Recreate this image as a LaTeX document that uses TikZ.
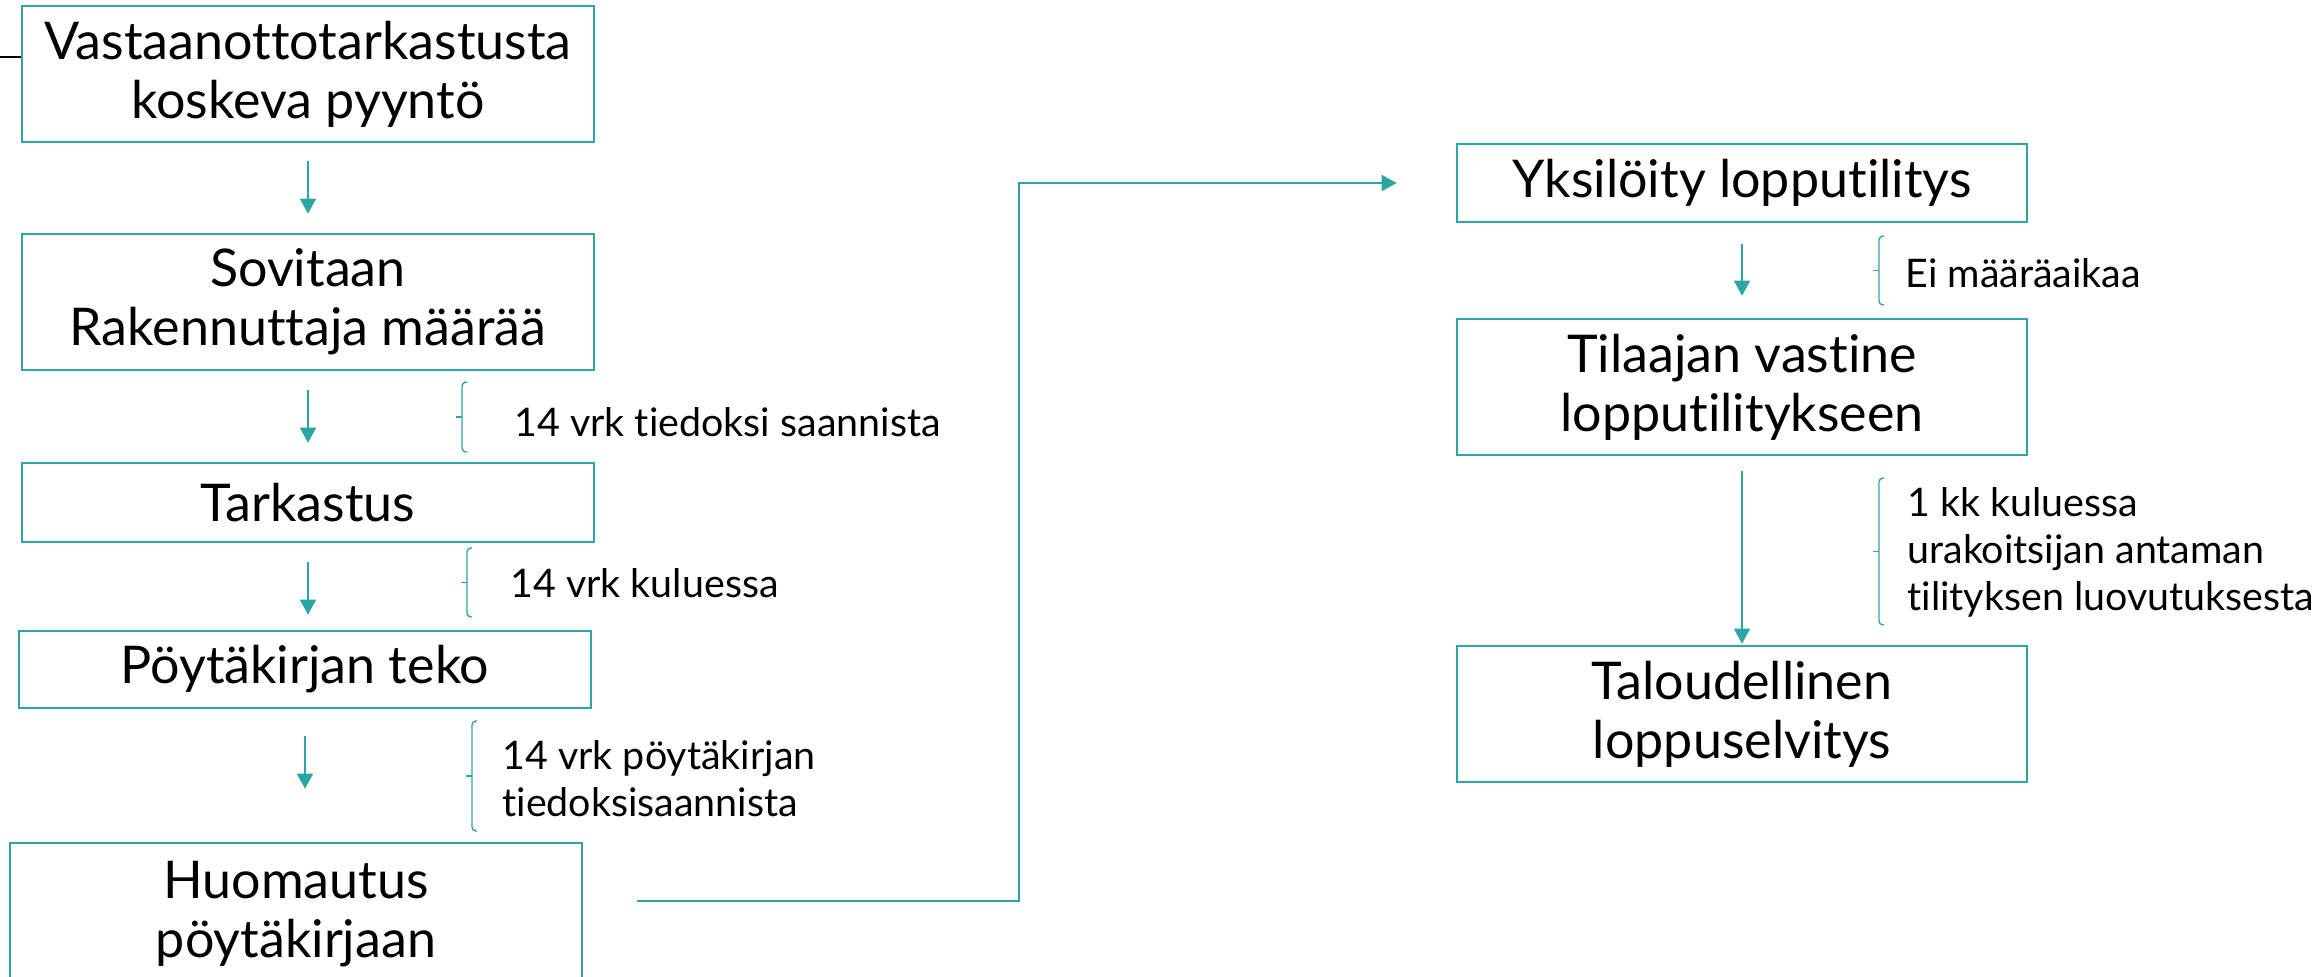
\documentclass[tikz,border=0pt]{standalone}
\usepackage{fontspec}
\setmainfont[Ligatures=NoCommon]{Lato}
\usetikzlibrary{arrows.meta,calc}
\definecolor{teal}{RGB}{43,166,164}
\tikzset{
  box/.style={draw=teal, line width=1.3pt, fill=white, align=center, inner sep=0pt,
    font=\fontsize{26}{29.5}\selectfont},
  lbl/.style={anchor=west, align=left, inner sep=0pt, font=\fontsize{19.7}{23.5}\selectfont},
  conn/.style={draw=teal, line width=0.8pt, -{Triangle[length=7.5pt,width=8pt]}},
  brc/.style={draw=teal, line width=0.7pt, rounded corners=2pt}
}
\newcommand{\mybrk}[3]{% x, top, bottom
  \draw[brc] ($(#1,#2)+(5,0)$) -- (#1,#2) -- (#1,#3) -- ($(#1,#3)+(5,0)$);
  \draw[teal, line width=0.7pt] ($(#1,{(#2+#3)/2})$) -- ($(#1,{(#2+#3)/2})+(-6,0)$);
}
\begin{document}
\begin{tikzpicture}[x=0.5pt,y=-0.5pt]
\useasboundingbox (0,0) rectangle (2322,976);
\clip (0,0) rectangle (2322,976);
% left column
\node[box, minimum width=286pt, minimum height=68pt] (b1) at (308,74) {Vastaanottotarkastusta\\koskeva pyyntö};
\node[box, minimum width=286pt, minimum height=68pt] (b2) at (308,302) {Sovitaan\\Rakennuttaja määrää};
\node[box, minimum width=286pt, minimum height=39.5pt] (b3) at (308,502.5) {Tarkastus};
\node[box, minimum width=286pt, minimum height=38.5pt] (b4) at (305,669.5) {Pöytäkirjan teko};
\node[box, minimum width=286pt, minimum height=71pt] (b5) at (296,914) {Huomautus\\pöytäkirjaan};
% right column
\node[box, minimum width=285pt, minimum height=39pt] (yk) at (1742,183) {Yksilöity lopputilitys};
\node[box, minimum width=285pt, minimum height=68pt] (ti) at (1742,387) {Tilaajan vastine\\lopputilitykseen};
\node[box, minimum width=285pt, minimum height=68pt] (ta) at (1742,714) {Taloudellinen\\loppuselvitys};
% labels
\node[lbl] (l1) at (514,422) {14 vrk tiedoksi saannista};
\node[lbl] (l2) at (510,583) {14 vrk kuluessa};
\node[lbl] (l3) at (502,779) {14 vrk pöytäkirjan\\tiedoksisaannista};
\node[lbl] (l4) at (1905,273) {Ei määräaikaa};
\node[lbl] (l5) at (1907,552) {1 kk kuluessa\\urakoitsijan antaman\\tilityksen luovutuksesta};
% brackets
\mybrk{462}{382}{452}
\mybrk{467}{548}{617}
\mybrk{472}{721}{831}
\mybrk{1879}{236}{305}
\mybrk{1879}{478}{625}
% arrows
\draw[conn, shorten <=9pt, shorten >=9.5pt] (b1.south) -- (b2.north);
\draw[conn, shorten <=9.5pt, shorten >=9.5pt] (b2.south) -- (b3.north);
\draw[conn, shorten <=9.5pt, shorten >=7.5pt] (b3.south) -- (b3.south |- b4.north);
\draw[conn, shorten <=13.5pt, shorten >=26.5pt] (b4.south) -- (b4.south |- b5.north);
\draw[conn, shorten <=10.5pt, shorten >=11pt] (yk.south) -- (ti.north);
\draw[conn, shorten <=7.5pt, shorten >=0.5pt] (ti.south) -- (ta.north);
% long connector
\coordinate (hstart) at (637,901);
\coordinate (hbend) at (1019,901);
\draw[conn, shorten >=29.5pt] (hstart) -- (hbend) |- (yk.west);
% black line at top left
\coordinate (lstart) at (0,57);
\draw[black, line width=0.8pt] (lstart) -- (lstart -| b1.west);
\end{tikzpicture}
\end{document}
